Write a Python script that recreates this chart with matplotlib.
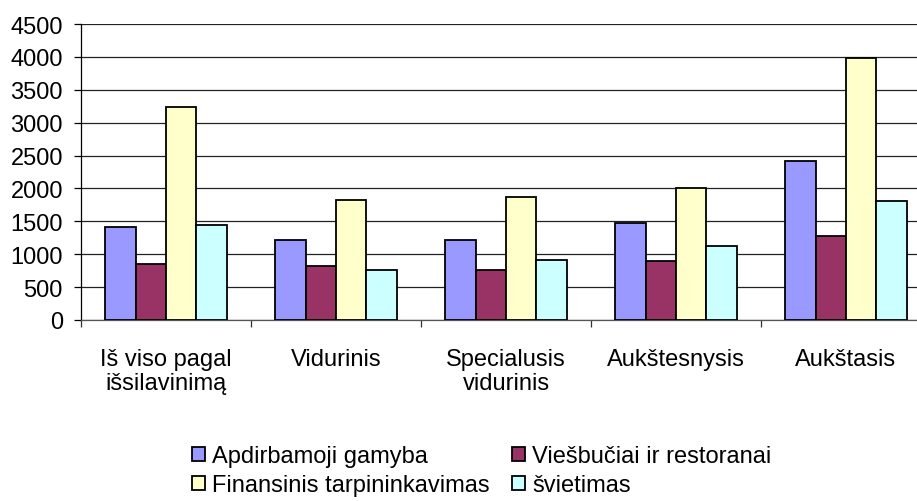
import matplotlib
matplotlib.use("Agg")
import matplotlib.pyplot as plt
import numpy as np

categories = ["Iš viso pagal\nišsilavinimą", "Vidurinis", "Specialusis\nvidurinis", "Aukštesnysis", "Aukštasis"]
series_names = ["Apdirbamoji gamyba", "Viešbučiai ir restoranai", "Finansinis tarpininkavimas", "švietimas"]
apdirbamoji = [1415, 1220, 1220, 1475, 2410]
viesbuciai = [850, 820, 765, 900, 1270]
finansinis = [3245, 1820, 1870, 2010, 3990]
svietimas = [1445, 765, 905, 1130, 1815]
y_ticks = [0, 500, 1000, 1500, 2000, 2500, 3000, 3500, 4000, 4500]

colors = ["#9999FF", "#993366", "#FFFFCC", "#CCFFFF"]

plt.rcParams['font.family'] = ['Liberation Sans', 'DejaVu Sans']
FS = 17

W, H = 917, 502
fig = plt.figure(figsize=(W / 100, H / 100), dpi=100)
ax = fig.add_axes([81 / W, (H - 321) / H, 850 / W, 296 / H])

x = np.arange(len(categories))
w = 0.179
series = [apdirbamoji, viesbuciai, finansinis, svietimas]
handles = []
for i, (vals, name, c) in enumerate(zip(series, series_names, colors)):
    b = ax.bar(x + (i - 1.5) * w, vals, width=w, color=c, edgecolor='black',
               linewidth=1.3, label=name, zorder=3)
    handles.append(b)

ax.set_xlim(-0.5, len(categories) - 0.5)
ax.set_ylim(0, 4500)
ax.set_yticks(y_ticks)
ax.yaxis.grid(True, color='#222222', linewidth=0.9, zorder=0)
ax.set_axisbelow(True)

ax.set_xticks(x)
ax.set_xticklabels(categories, fontsize=FS, linespacing=1.15)
ax.set_xticks(np.arange(len(categories) + 1) - 0.5, minor=True)
ax.tick_params(axis='x', which='major', length=0, pad=20)
ax.tick_params(axis='x', which='minor', length=5, width=0.9, color='#333333')
ax.tick_params(axis='y', labelsize=FS, length=5, width=0.9, pad=8)

for s in ['top', 'right']:
    ax.spines[s].set_visible(False)
ax.spines['left'].set_color('black')
ax.spines['left'].set_linewidth(0.9)
ax.spines['bottom'].set_color('#555555')
ax.spines['bottom'].set_linewidth(0.9)

# row-major order: (A, V) / (F, š)
order = [0, 2, 1, 3]
leg = fig.legend([handles[i] for i in order], [series_names[i] for i in order],
                 loc='upper left', bbox_to_anchor=(192 / W, (H - 446) / H), ncol=2,
                 frameon=False, fontsize=FS, handlelength=0.55, handleheight=0.55,
                 handletextpad=0.3, columnspacing=0.95, labelspacing=0.3,
                 borderpad=0, borderaxespad=0)

fig.savefig("out.png", dpi=100)
